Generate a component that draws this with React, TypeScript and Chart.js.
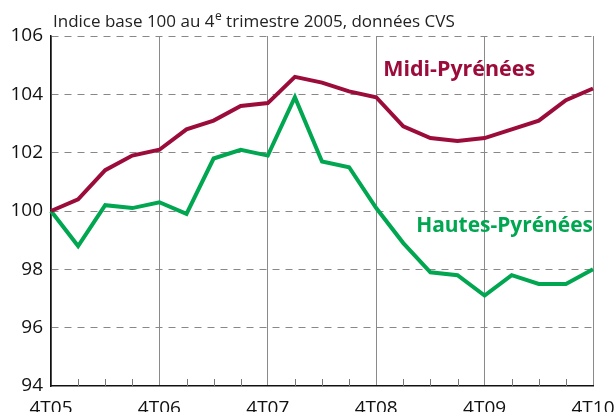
import React, { useEffect, useRef } from "react";
import { Chart, registerables } from "chart.js";

Chart.register(...registerables);

const quarters = [
  "4T05", "1T06", "2T06", "3T06", "4T06", "1T07", "2T07", "3T07", "4T07",
  "1T08", "2T08", "3T08", "4T08", "1T09", "2T09", "3T09", "4T09",
  "1T10", "2T10", "3T10", "4T10",
];

const midiPyrenees = [
  100, 100.4, 101.4, 101.9, 102.1, 102.8, 103.1, 103.6, 103.7, 104.6, 104.4,
  104.1, 103.9, 102.9, 102.5, 102.4, 102.5, 102.8, 103.1, 103.8, 104.2,
];

const hautesPyrenees = [
  100, 98.8, 100.2, 100.1, 100.3, 99.9, 101.8, 102.1, 101.9, 103.9, 101.7,
  101.5, 100.1, 98.9, 97.9, 97.8, 97.1, 97.8, 97.5, 97.5, 98.0,
];

const yTicks = [94, 96, 98, 100, 102, 104, 106];

const seriesNames = ["Midi-Pyrénées", "Hautes-Pyrénées"];
const subtitleParts = ["Indice base 100 au 4", "e", " trimestre 2005, données CVS"];

const RED = "#9c0c3b";
const GREEN = "#00a650";
const FONT = "'Open Sans', sans-serif";

function fitSize(ctx: CanvasRenderingContext2D, text: string, weight: string, target: number) {
  ctx.font = `${weight} 20px ${FONT}`;
  const w = ctx.measureText(text).width;
  return (20 * target) / w;
}

export default function App() {
  const ref = useRef<HTMLCanvasElement | null>(null);

  useEffect(() => {
    document.body.style.margin = "0";
    const canvas = ref.current;
    if (!canvas) return;

    const overlay = {
      id: "overlay",
      afterDraw(chart: any) {
        const { ctx } = chart;
        const xs = chart.scales.x;
        const ys = chart.scales.y;
        const bottom = chart.chartArea.bottom;
        // minor quarter ticks inside plot
        ctx.save();
        ctx.strokeStyle = "#777";
        ctx.lineWidth = 1;
        quarters.forEach((_, i) => {
          if (i % 4 === 0) return;
          const x = Math.round(xs.getPixelForValue(i)) + 0.5;
          ctx.beginPath();
          ctx.moveTo(x, bottom);
          ctx.lineTo(x, bottom - 7);
          ctx.stroke();
        });
        ctx.restore();

        // series labels
        ctx.save();
        ctx.textBaseline = "middle";
        const s1 = fitSize(ctx, seriesNames[0], "bold", 152);
        ctx.font = `bold ${s1}px ${FONT}`;
        ctx.fillStyle = RED;
        ctx.textAlign = "left";
        ctx.fillText(seriesNames[0], xs.getPixelForValue(12) + 7, ys.getPixelForValue(104.85));
        const s2 = fitSize(ctx, seriesNames[1], "bold", 177);
        ctx.font = `bold ${s2}px ${FONT}`;
        ctx.fillStyle = GREEN;
        ctx.textAlign = "right";
        ctx.fillText(seriesNames[1], xs.getPixelForValue(20), ys.getPixelForValue(99.5));
        ctx.restore();

        // subtitle
        ctx.save();
        ctx.fillStyle = "#222";
        ctx.textBaseline = "alphabetic";
        ctx.textAlign = "left";
        const size = 17;
        let x = 53;
        const base = 27;
        ctx.font = `${size}px ${FONT}`;
        ctx.fillText(subtitleParts[0], x, base);
        x += ctx.measureText(subtitleParts[0]).width;
        ctx.font = `${Math.round(size * 0.68)}px ${FONT}`;
        ctx.fillText(subtitleParts[1], x + 0.5, base - 7);
        x += ctx.measureText(subtitleParts[1]).width + 0.5;
        ctx.font = `${size}px ${FONT}`;
        ctx.fillText(subtitleParts[2], x, base);
        ctx.restore();
      },
    };

    const chart = new Chart(canvas, {
      type: "line",
      data: {
        labels: quarters,
        datasets: [
          {
            label: seriesNames[0],
            data: midiPyrenees,
            borderColor: RED,
            borderWidth: 4,
            pointRadius: 0,
            tension: 0,
          },
          {
            label: seriesNames[1],
            data: hautesPyrenees,
            borderColor: GREEN,
            borderWidth: 4,
            pointRadius: 0,
            tension: 0,
          },
        ],
      },
      options: {
        animation: false,
        responsive: false,
        maintainAspectRatio: false,
        layout: { padding: { left: 0, top: 36, right: 23, bottom: 0 } },
        plugins: {
          legend: { display: false },
          tooltip: { enabled: false },
          title: { display: false },
        },
        scales: {
          x: {
            type: "category",
            offset: false,
            grid: {
              drawTicks: false,
              color: (c: any) => (c.index % 4 === 0 ? "#8a8a8a" : "rgba(0,0,0,0)"),
              lineWidth: 1,
            },
            border: { color: "#111", width: 1.5 },
            ticks: {
              autoSkip: false,
              maxRotation: 0,
              padding: 11,
              color: "#111",
              font: { family: FONT, size: 19 },
              callback: (_v: any, i: number) => (i % 4 === 0 ? quarters[i] : ""),
            },
            afterFit: (s: any) => {
              s.height = 26;
              s.paddingLeft = 0;
              s.paddingRight = 0;
            },
          },
          y: {
            min: 94,
            max: 106,
            afterBuildTicks: (s: any) => {
              s.ticks = yTicks.map((v) => ({ value: v }));
            },
            grid: {
              drawTicks: false,
              color: (c: any) => (c.tick && c.tick.value === 94 ? "rgba(0,0,0,0)" : "#888"),
              lineWidth: 1,
            },
            border: { color: "#111", width: 1.5, dash: [7, 6] },
            ticks: {
              padding: 8,
              color: "#111",
              font: { family: FONT, size: 19 },
            },
            afterFit: (s: any) => {
              s.width = 51;
              s.paddingTop = 0;
              s.paddingBottom = 0;
            },
          },
        },
      },
      plugins: [overlay],
    });

    return () => chart.destroy();
  }, []);

  return (
    <div style={{ position: "relative", width: 616, height: 412, background: "#fff" }}>
      <canvas ref={ref} width={616} height={412} style={{ display: "block" }} />
    </div>
  );
}
